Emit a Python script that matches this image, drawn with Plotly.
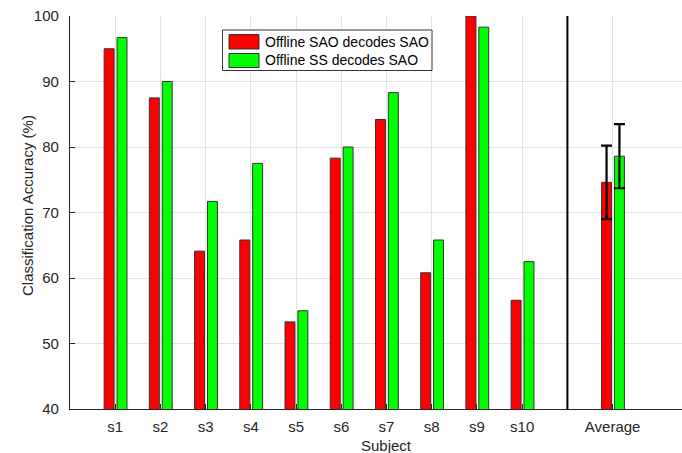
import plotly.graph_objects as go

# ---- data ----
subjects = ["s1", "s2", "s3", "s4", "s5", "s6", "s7", "s8", "s9", "s10"]
sao_vals = [95.0, 87.5, 64.1, 65.8, 53.3, 78.3, 84.2, 60.8, 100.0, 56.6]
ss_vals = [96.7, 90.0, 71.7, 77.5, 55.0, 80.0, 88.3, 65.8, 98.3, 62.5]
avg_label = "Average"
avg_vals = [74.6, 78.6]
avg_err = [5.6, 4.9]
series_names = ["Offline SAO decodes SAO", "Offline SS decodes SAO"]
y_ticks = [40, 50, 60, 70, 80, 90, 100]

# ---- layout constants ----
W, H = 682, 453
L, R, T, B = 70, 682, 16, 409
FONT = "Liberation Sans, Arial, sans-serif"
TXT = "#262626"
RED, GREEN = "#FF0000", "#00FF00"
EDGE = "#333333"
BW = 0.22
OFFS = [-0.245, 0.04]
COLORS = [RED, GREEN]

subj_pos = list(range(1, len(subjects) + 1))
avg_pos = len(subjects) + 2
sep_pos = len(subjects) + 1


def px(xpix):
    return (xpix - L) / (R - L)


def py(ypix):
    return (B - ypix) / (B - T)


fig = go.Figure()
for vals, off, col in zip([sao_vals, ss_vals], OFFS, COLORS):
    fig.add_trace(go.Bar(x=subj_pos, y=vals, offset=off, width=BW,
                         marker=dict(color=col, line=dict(color=EDGE, width=1)),
                         showlegend=False, hoverinfo="y"))
for i, (off, col) in enumerate(zip(OFFS, COLORS)):
    fig.add_trace(go.Bar(x=[avg_pos], y=[avg_vals[i]], offset=off, width=BW,
                         marker=dict(color=col, line=dict(color=EDGE, width=1)),
                         error_y=dict(type="data", array=[avg_err[i]], color="black",
                                      thickness=2.2, width=5.5),
                         showlegend=False, hoverinfo="y"))

shapes = [
    dict(type="line", xref="x", yref="paper", x0=sep_pos, x1=sep_pos, y0=0, y1=1,
         line=dict(color="black", width=2)),
    # legend box
    dict(type="rect", xref="paper", yref="paper", x0=px(222.5), x1=px(432), y0=py(30), y1=py(70.5),
         line=dict(color="#333333", width=1), fillcolor="white", layer="above"),
    dict(type="rect", xref="paper", yref="paper", x0=px(229), x1=px(259), y0=py(34.5), y1=py(49),
         line=dict(color=EDGE, width=1), fillcolor=RED, layer="above"),
    dict(type="rect", xref="paper", yref="paper", x0=px(229), x1=px(259), y0=py(53.5), y1=py(67.5),
         line=dict(color=EDGE, width=1), fillcolor=GREEN, layer="above"),
]

annotations = [
    dict(text=series_names[0], xref="paper", yref="paper", x=px(263), y=py(42),
         xanchor="left", yanchor="middle", showarrow=False, font=dict(size=14, color="black", family=FONT)),
    dict(text=series_names[1], xref="paper", yref="paper", x=px(263), y=py(60.5),
         xanchor="left", yanchor="middle", showarrow=False, font=dict(size=14, color="black", family=FONT)),
    dict(text="Subject", xref="paper", yref="paper", x=px(386.5), y=py(445),
         xanchor="center", yanchor="middle", showarrow=False, font=dict(size=15, color=TXT, family=FONT)),
    dict(text="Classification Accuracy (%)", xref="paper", yref="paper", x=px(27), y=py(206),
         xanchor="center", yanchor="middle", textangle=-90, showarrow=False,
         font=dict(size=15, color=TXT, family=FONT)),
]

fig.update_layout(
    width=W, height=H,
    margin=dict(l=L, r=W - R, t=T, b=H - B, pad=0),
    paper_bgcolor="white", plot_bgcolor="white",
    barmode="overlay",
    font=dict(family=FONT, size=15, color=TXT),
    shapes=shapes, annotations=annotations,
    xaxis=dict(range=[0, (R - L) / 45.22], tickmode="array",
               tickvals=subj_pos + [avg_pos], ticktext=subjects + [avg_label],
               showgrid=True, gridcolor="#e3e3e3", gridwidth=1,
               showline=True, linecolor=TXT, linewidth=1.2,
               ticks="inside", ticklen=5, tickcolor=TXT, ticklabelstandoff=4,
               tickfont=dict(size=15, color=TXT, family=FONT),
               zeroline=False, fixedrange=True),
    yaxis=dict(range=[40, 100], tickvals=y_ticks,
               showgrid=True, gridcolor="#e3e3e3", gridwidth=1,
               showline=True, linecolor=TXT, linewidth=1.2,
               ticks="inside", ticklen=5, tickcolor=TXT, ticklabelstandoff=7,
               tickfont=dict(size=15, color=TXT, family=FONT),
               zeroline=False, fixedrange=True),
)

fig.write_html("out.html", config={"displayModeBar": False},
               post_script="document.body.style.margin='0px';document.body.style.overflow='hidden';")
